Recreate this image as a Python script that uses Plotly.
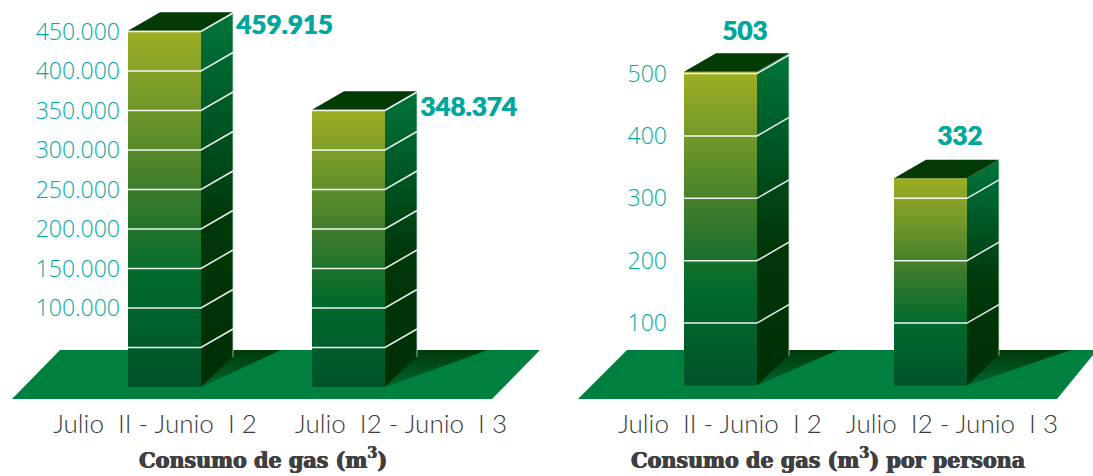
import plotly.graph_objects as go

W, H = 1093, 476

# data
CATEGORIES = ["Julio  II - Junio  I 2", "Julio  I2 - Junio  I 3"]
TITLE_LEFT = "Consumo de gas (m<sup>3</sup>)"
TITLE_RIGHT = "Consumo de gas (m<sup>3</sup>) por persona"

LEFT_HEIGHTS = [451000, 351000]
LEFT_LABELS = ["459.915", "348.374"]
LEFT_GRID = [50000, 100000, 150000, 200000, 250000, 300000, 350000, 400000, 450000]
LEFT_TICKVALS = [100000, 150000, 200000, 250000, 300000, 350000, 400000, 450000]
LEFT_TICKTEXT = ["100.000", "150.000", "200.000", "250.000", "300.000", "350.000", "400.000", "450.000"]

RIGHT_HEIGHTS = [503, 332]
RIGHT_LABELS = ["503", "332"]
RIGHT_GRID = [100, 200, 300, 400, 500]
RIGHT_TICKVALS = [100, 200, 300, 400, 500]
RIGHT_TICKTEXT = ["100", "200", "300", "400", "500"]

# style
TEAL = "#00a8a2"
FRONT = [[0, "#00532a"], [0.3, "#006a2c"], [0.55, "#3c7b2c"], [0.8, "#74992a"], [1, "#9dae24"]]
SIDE = [[0, "#002f05"], [0.45, "#00380a"], [0.75, "#005a28"], [1, "#00753a"]]
SHADOW = [[0, "#00662f"], [1, "#003a08"]]
TOP = "#033a05"
FLOOR = "#00803f"
WHITE_LINE = "rgba(255,255,255,0.92)"

fig = go.Figure()


def panel(xa, ya, px_c0, px_step, px_zero, px_per_unit, heights, grid, floor_px, bar_w, shadow_ends):
    """Draws a pseudo-3D panel on axes xa/ya."""
    sx = 1.0 / px_step
    sy = 1.0 / px_per_unit
    hw = bar_w / 2 * sx
    dx, dy, base_rise = 32 * sx, 18.5 * sy, 30 * sy
    floor_top = (px_zero - 350) * sy

    def poly(xs, ys, **kw):
        fig.add_trace(go.Scatter(x=xs, y=ys, xaxis=xa, yaxis=ya, mode="lines", fill="toself",
                                 line=dict(width=0), hoverinfo="skip", showlegend=False, **kw))

    fx = [(p - px_c0) * sx for p in floor_px]
    fb = (px_zero - 399) * sy
    poly([fx[0], fx[1], fx[2], fx[3], fx[0]], [fb, floor_top, floor_top, fb, fb], fillcolor=FLOOR)

    for i, h in enumerate(heights):
        x0, x1 = i - hw, i + hw
        x2 = x1 + dx
        # shadow on floor
        xe = (shadow_ends[i] - px_c0) * sx
        poly([x1, x2, x2, xe, x1], [0, base_rise, floor_top, floor_top, 0],
             fillgradient=dict(type="vertical", colorscale=SHADOW))
        # side face
        poly([x1, x2, x2, x1, x1], [0, base_rise, h + dy, h, 0],
             fillgradient=dict(type="vertical", colorscale=SIDE))
        # front face
        poly([x0, x1, x1, x0, x0], [0, 0, h, h, 0],
             fillgradient=dict(type="vertical", colorscale=FRONT))
        # top face
        poly([x0, x1, x2, x0 + dx, x0], [h, h, h + dy, h + dy, h], fillcolor=TOP)
        # bright rear edge
        fig.add_trace(go.Scatter(x=[x2, x2], y=[base_rise, h + dy], xaxis=xa, yaxis=ya, mode="lines",
                                 line=dict(width=1, color="rgba(190,225,205,0.75)"),
                                 hoverinfo="skip", showlegend=False))
        # graduation lines
        lx, ly = [], []
        for g in grid:
            if g < h * 0.9985:
                lx += [x0, x1, x2, None]
                ly += [g, g, g + dy, None]
        fig.add_trace(go.Scatter(x=lx, y=ly, xaxis=xa, yaxis=ya, mode="lines",
                                 line=dict(width=1.5, color=WHITE_LINE),
                                 hoverinfo="skip", showlegend=False))


L_C0, L_STEP, L_ZERO, L_PPU = 164.5, 184.0, 387.0, 39.5 / 50000
R_C0, R_STEP, R_ZERO, R_PPU = 720.5, 210.0, 385.5, 62.4 / 100
panel("x", "y", L_C0, L_STEP, L_ZERO, L_PPU, LEFT_HEIGHTS, LEFT_GRID, [12, 60, 540, 492], 73, [281, 488])
panel("x2", "y2", R_C0, R_STEP, R_ZERO, R_PPU, RIGHT_HEIGHTS, RIGHT_GRID, [578, 627, 1097, 1057], 73, [838, 1071])

BOTTOM = 399
SPLIT = 546


def xr(px0, px1, c0, step):
    return [(px0 - c0) / step, (px1 - c0) / step]


def yr(zero, ppu):
    return [(zero - BOTTOM) / ppu, zero / ppu]


axis_y = dict(showgrid=False, zeroline=False, showline=False, ticks="", anchor="free",
              tickfont=dict(family="Open Sans", size=23, color=TEAL, weight=300), tickmode="array",
              domain=[1 - BOTTOM / H, 1])
axis_x = dict(showgrid=False, zeroline=False, showline=False, tickmode="array", ticks="outside",
              ticklen=2, tickcolor="rgba(0,0,0,0)",
              tickfont=dict(family="Lato", size=26, color="#3a3a3c", weight=300))

fig.update_layout(
    width=W, height=H, margin=dict(l=0, r=0, t=0, b=0), autosize=False,
    paper_bgcolor="white", plot_bgcolor="rgba(0,0,0,0)", showlegend=False,
    xaxis=dict(axis_x, domain=[0, SPLIT / W], range=xr(0, SPLIT, L_C0, L_STEP),
               tickvals=[(155 - L_C0) / L_STEP, (401 - L_C0) / L_STEP], ticktext=CATEGORIES),
    xaxis2=dict(axis_x, domain=[SPLIT / W, 1], range=xr(SPLIT, W, R_C0, R_STEP),
                tickvals=[(720 - R_C0) / R_STEP, (952 - R_C0) / R_STEP], ticktext=CATEGORIES),
    yaxis=dict(axis_y, range=yr(L_ZERO, L_PPU), position=120 / W,
               tickvals=LEFT_TICKVALS, ticktext=LEFT_TICKTEXT),
    yaxis2=dict(axis_y, range=yr(R_ZERO, R_PPU), position=667 / W,
                tickvals=RIGHT_TICKVALS, ticktext=RIGHT_TICKTEXT),
)

VALUE_FONT = dict(family="Lato", size=26, color="#00a79d", weight=900, shadow="0.7px 0 0 #00a79d")
TITLE_FONT = dict(family="DejaVu Serif Condensed", size=23, color="#3f3f41", weight=700,
                  shadow="0.7px 0 0 #3f3f41, -0.4px 0 0 #3f3f41")


def label(text, xa, ya, x, y, xs, ys):
    fig.add_annotation(text=text, xref=xa, yref=ya, x=x, y=y, xshift=xs, yshift=ys, showarrow=False,
                       font=VALUE_FONT, xanchor="center", yanchor="middle")


label(LEFT_LABELS[0], "x", "y", 0, LEFT_HEIGHTS[0], 119.5, 7)
label(LEFT_LABELS[1], "x", "y", 1, LEFT_HEIGHTS[1], 119.5, 4)
label(RIGHT_LABELS[0], "x2", "y2", 0, RIGHT_HEIGHTS[0], 24, 42)
label(RIGHT_LABELS[1], "x2", "y2", 1, RIGHT_HEIGHTS[1], 29, 43)

fig.add_annotation(text=TITLE_LEFT, xref="paper", yref="paper", x=263 / W, y=1 - 458 / H, showarrow=False,
                   font=TITLE_FONT, xanchor="center", yanchor="middle")
fig.add_annotation(text=TITLE_RIGHT, xref="paper", yref="paper", x=828 / W, y=1 - 458 / H, showarrow=False,
                   font=TITLE_FONT, xanchor="center", yanchor="middle")

fig.write_html("out.html", config=dict(displayModeBar=False),
               post_script="document.body.style.margin='0';document.body.style.overflow='hidden';")
